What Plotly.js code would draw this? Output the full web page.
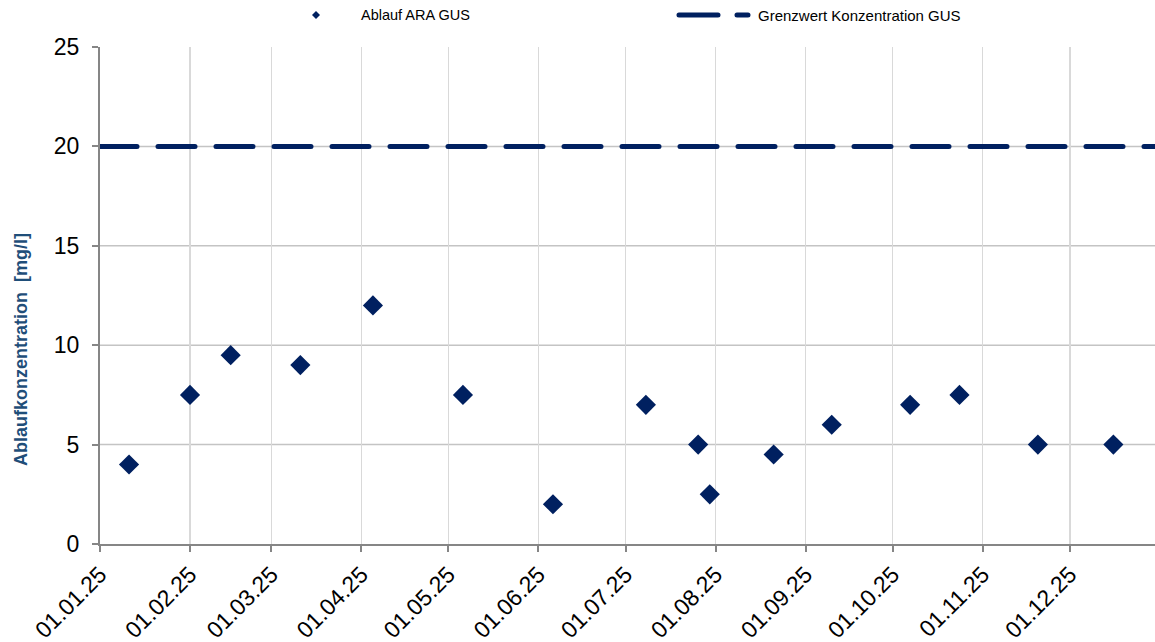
<!DOCTYPE html>
<html>
<head>
<meta charset="utf-8">
<script src="https://cdn.plot.ly/plotly-3.0.1.min.js"></script>
<style>
  html, body { margin: 0; padding: 0; background: #fff; }
  #chart { width: 1155px; height: 642px; }
  .js-line, .shapelayer path { stroke-linecap: round; }
</style>
</head>
<body>
<div id="chart"></div>
<script>
// Sampling dates and measured effluent concentration (mg/l)
const sampleDates = [
  '2025-01-11', '2025-02-01', '2025-02-15', '2025-03-11', '2025-04-05',
  '2025-05-06', '2025-06-06', '2025-07-08', '2025-07-26', '2025-07-30',
  '2025-08-21', '2025-09-10', '2025-10-07', '2025-10-24', '2025-11-20',
  '2025-12-16'
];
const effluentValues = [4, 7.5, 9.5, 9, 12, 7.5, 2, 7, 5, 2.5, 4.5, 6, 7, 7.5, 5, 5];

// Limit value line
const limitDates = ['2025-01-01', '2025-12-31'];
const limitValues = [20, 20];

const seriesNames = ['Ablauf ARA GUS', 'Grenzwert Konzentration GUS'];
const yTitle = 'Ablaufkonzentration  [mg/l]';
const yTickValues = [0, 5, 10, 15, 20, 25];
const yGridValues = [5, 10, 15, 20];

const navy = '#002060';
const font = 'Liberation Sans, Arial, sans-serif';

const traces = [
  {
    x: limitDates, y: limitValues, name: seriesNames[1],
    type: 'scatter', mode: 'lines',
    line: { color: navy, width: 5, dash: '37px,21px' },
    showlegend: false, hoverinfo: 'skip'
  },
  {
    x: sampleDates, y: effluentValues, name: seriesNames[0],
    type: 'scatter', mode: 'markers',
    marker: { symbol: 'diamond', size: 15.5, color: navy },
    showlegend: false, cliponaxis: false
  }
];

// paper coordinates for the key row above the plot
const plotTop = 47, plotH = 497;
const px2x = p => (p - 100) / 1055;
const py2y = p => (plotTop + plotH - p) / plotH;
const keyY = py2y(15);

const shapes = yGridValues.map(v => ({
  type: 'line', xref: 'paper', yref: 'y', x0: 0, x1: 1, y0: v, y1: v,
  layer: 'below', line: { color: '#c4c4c4', width: 1.5 }
}));
shapes.push({
  type: 'path', xref: 'paper', yref: 'paper',
  xsizemode: 'pixel', ysizemode: 'pixel',
  xanchor: px2x(316), yanchor: keyY,
  path: 'M-4,0 L0,4 L4,0 L0,-4 Z',
  fillcolor: navy, line: { width: 0 }
});
shapes.push({
  type: 'line', xref: 'paper', yref: 'paper',
  x0: px2x(679), x1: px2x(748), y0: keyY, y1: keyY,
  line: { color: navy, width: 5, dash: '39px,19px' }
});

const annotations = [
  {
    text: seriesNames[0], xref: 'paper', yref: 'paper',
    x: px2x(359), y: keyY, xanchor: 'left', yanchor: 'middle',
    showarrow: false, font: { family: font, size: 14.5, color: '#000' }
  },
  {
    text: seriesNames[1], xref: 'paper', yref: 'paper',
    x: px2x(756), y: keyY, xanchor: 'left', yanchor: 'middle',
    showarrow: false, font: { family: font, size: 15, color: '#000' }
  },
  {
    text: '<b>' + yTitle + '</b>', xref: 'paper', yref: 'paper',
    x: px2x(21), y: py2y(350), xanchor: 'center', yanchor: 'middle',
    textangle: -90, showarrow: false,
    font: { family: font, size: 18, color: '#1f4e79' }
  }
];

const layout = {
  width: 1155, height: 642,
  margin: { l: 100, r: 0, t: plotTop, b: 642 - plotTop - plotH },
  paper_bgcolor: '#fff', plot_bgcolor: '#fff',
  font: { family: font, color: '#000' },
  showlegend: false,
  xaxis: {
    type: 'date',
    range: ['2025-01-01', '2025-12-30 08:00'],
    tick0: '2025-01-01', dtick: 'M1', tickformat: '%d.%m.%y',
    tickangle: -45,
    tickfont: { family: font, size: 23, color: '#000' },
    ticks: 'outside', ticklen: 6, tickwidth: 2, tickcolor: '#868686',
    showline: true, linecolor: '#868686', linewidth: 2,
    showgrid: true, gridcolor: '#d9d9d9', gridwidth: 1.5,
    zeroline: false, fixedrange: true
  },
  yaxis: {
    range: [0, 25], tickvals: yTickValues,
    tickfont: { family: font, size: 23, color: '#000' },
    ticks: 'outside', ticklen: 6, tickwidth: 2, tickcolor: '#868686',
    ticklabelstandoff: 8,
    showline: true, linecolor: '#868686', linewidth: 2,
    showgrid: false, zeroline: false, fixedrange: true
  },
  shapes: shapes,
  annotations: annotations
};

Plotly.newPlot('chart', traces, layout, { displayModeBar: false, staticPlot: true });
</script>
</body>
</html>
